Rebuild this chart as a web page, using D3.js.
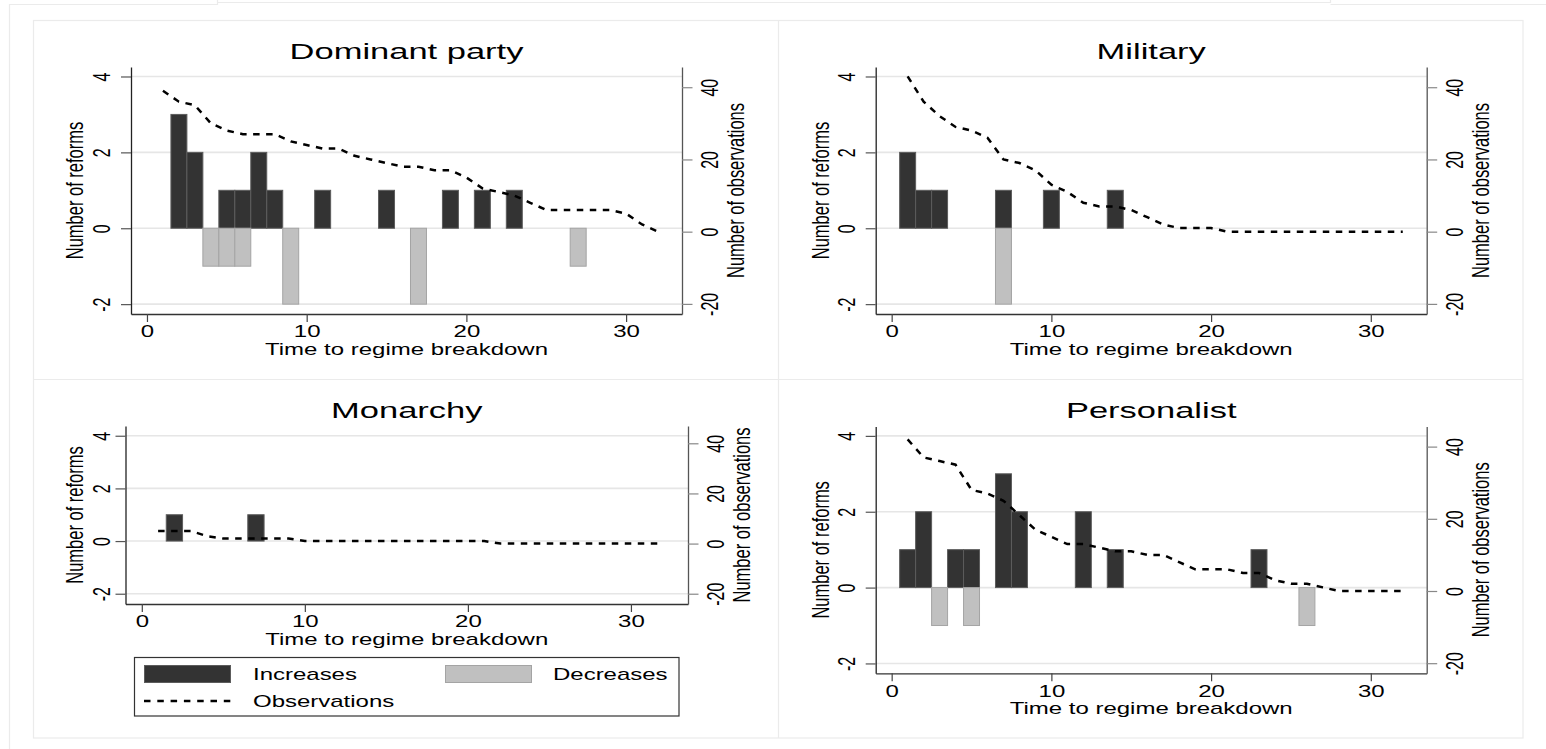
<!DOCTYPE html>
<html>
<head>
<meta charset="utf-8">
<script src="https://cdn.jsdelivr.net/npm/d3@7"></script>
<style>
  html, body { margin: 0; padding: 0; background: #fff; }
  svg { display: block; font-family: "Liberation Sans", Arial, Helvetica, sans-serif; }
</style>
</head>
<body>
<div id="chart"></div>
<script>
/* ============================================================
   Reforms before regime breakdown, by regime type
   ============================================================ */

// --- Data ---
const X_TICKS = [0, 10, 20, 30];
const Y_TICKS = [-2, 0, 2, 4];
const Y2_TICKS = [-20, 0, 20, 40];
const X_DOMAIN = [-1, 33.5];

const OBS_T = [1, 2, 3, 4, 5, 6, 7, 8, 9, 10, 11, 12, 13, 14, 15, 16,
               17, 18, 19, 20, 21, 22, 23, 24, 25, 26, 27, 28, 29, 30, 31, 32];

const DOM_INC_T = [2, 3, 5, 6, 7, 8, 11, 15, 19, 21, 23];
const DOM_INC_N = [3, 2, 1, 1, 2, 1, 1, 1, 1, 1, 1];
const DOM_DEC_T = [4, 5, 6, 9, 17, 27];
const DOM_DEC_N = [-1, -1, -1, -2, -2, -1];
const DOM_OBS = [39, 36, 35, 30, 28, 27, 27, 27, 25, 24, 23, 23, 21, 20, 19, 18,
                 18, 17, 17, 15, 12, 11, 10, 8, 6, 6, 6, 6, 6, 5, 2, 0];

const MIL_INC_T = [1, 2, 3, 7, 10, 14];
const MIL_INC_N = [2, 1, 1, 1, 1, 1];
const MIL_DEC_T = [7];
const MIL_DEC_N = [-2];
const MIL_OBS = [43, 36, 32, 29, 28, 26, 20, 19, 17, 13, 11, 8, 7, 7, 6, 4,
                 2, 1, 1, 1, 0, 0, 0, 0, 0, 0, 0, 0, 0, 0, 0, 0];

const MON_INC_T = [2, 7];
const MON_INC_N = [1, 1];
const MON_DEC_T = [];
const MON_DEC_N = [];
const MON_OBS = [5, 5, 5, 3, 2, 2, 2, 2, 2, 1, 1, 1, 1, 1, 1, 1,
                 1, 1, 1, 1, 1, 0, 0, 0, 0, 0, 0, 0, 0, 0, 0, 0];

const PER_INC_T = [1, 2, 4, 5, 7, 8, 12, 14, 23];
const PER_INC_N = [1, 2, 1, 1, 3, 2, 2, 1, 1];
const PER_DEC_T = [3, 5, 26];
const PER_DEC_N = [-1, -1, -1];
const PER_OBS = [42, 37, 36, 35, 28, 27, 25, 21, 17, 15, 13, 13, 12, 11, 11, 10,
                 10, 8, 6, 6, 6, 5, 5, 3, 2, 2, 1, 0, 0, 0, 0, 0];

const PANELS = [
    { title: 'Dominant party', incT: DOM_INC_T, incN: DOM_INC_N, decT: DOM_DEC_T, decN: DOM_DEC_N, obs: DOM_OBS },
    { title: 'Military',       incT: MIL_INC_T, incN: MIL_INC_N, decT: MIL_DEC_T, decN: MIL_DEC_N, obs: MIL_OBS },
    { title: 'Monarchy',       incT: MON_INC_T, incN: MON_INC_N, decT: MON_DEC_T, decN: MON_DEC_N, obs: MON_OBS },
    { title: 'Personalist',    incT: PER_INC_T, incN: PER_INC_N, decT: PER_DEC_T, decN: PER_DEC_N, obs: PER_OBS }
];

// --- Layout (plot boxes in px) ---
const LAYOUT = [
    { L: 131,   R: 682,    T: 67,    B: 314,   yDom: [-2.26, 4.25], y2Dom: [-22.8, 45.6], yLab: 29,   yTitle: 57 },
    { L: 875.7, R: 1426.7, T: 67,    B: 314,   yDom: [-2.26, 4.25], y2Dom: [-22.8, 45.6], yLab: 29,   yTitle: 56 },
    { L: 125.5, R: 688,    T: 426,   B: 604,   yDom: [-2.39, 4.37], y2Dom: [-24.1, 46.9], yLab: 23.5, yTitle: 51 },
    { L: 875.7, R: 1426.7, T: 426.4, B: 673.3, yDom: [-2.26, 4.25], y2Dom: [-22.8, 45.6], yLab: 29,   yTitle: 56 }
];

const SX = 1.5;           // the exported graph is stretched sideways
const DARK = '#333333', DARK_LINE = '#5c5c5c';
const LIGHT = '#c0c0c0', LIGHT_LINE = '#a4a4a4';
const GRID = '#e6e6e6', FRAME = '#ebebeb';

const svg = d3.select('#chart').append('svg')
    .attr('width', 1546)
    .attr('height', 749);

// text helper: horizontal text stretched in x, rotated text stretched across
function stext(sel, x, y, str, size, opts = {}) {
    const tf = opts.rotate
        ? `translate(${x},${y}) rotate(-90) scale(1,${SX})`
        : `translate(${x},${y}) scale(${SX},1)`;
    return sel.append('text')
        .attr('transform', tf)
        .attr('text-anchor', opts.anchor || 'middle')
        .attr('dominant-baseline', opts.rotate ? 'central' : null)
        .style('font-size', size + 'px')
        .attr('fill', '#000')
        .text(str);
}

// --- Background frames ---
const fr = svg.append('g').attr('fill', 'none').attr('stroke', FRAME).attr('stroke-width', 1.2);
fr.append('path').attr('d', 'M9.5,749 V4.5 H217.5 V0 M217.5,2.5 H1330.5 V0 M1330.5,4.5 H1546');
fr.append('rect').attr('x', 33.5).attr('y', 20.5).attr('width', 1489.5).attr('height', 717.5);
fr.append('line').attr('x1', 778.5).attr('x2', 778.5).attr('y1', 20.5).attr('y2', 738);
fr.append('line').attr('x1', 33.5).attr('x2', 1523).attr('y1', 379.5).attr('y2', 379.5);

// --- Panels ---
function drawPanel(p, lay) {
    const x = d3.scaleLinear().domain(X_DOMAIN).range([lay.L, lay.R]);
    const y = d3.scaleLinear().domain(lay.yDom).range([lay.B, lay.T]);
    const y2 = d3.scaleLinear().domain(lay.y2Dom).range([lay.B, lay.T]);
    const g = svg.append('g');

    // gridlines
    g.selectAll('line.grid').data(Y_TICKS).join('line')
        .attr('class', 'grid')
        .attr('x1', lay.L).attr('x2', lay.R)
        .attr('y1', d => y(d)).attr('y2', d => y(d))
        .attr('stroke', GRID).attr('stroke-width', 1.6);

    // increases
    const inc = p.incT.map((t, k) => ({ t, n: p.incN[k] }));
    g.selectAll('rect.inc').data(inc).join('rect')
        .attr('class', 'inc')
        .attr('x', d => x(d.t - 0.5))
        .attr('width', d => x(d.t + 0.5) - x(d.t - 0.5))
        .attr('y', d => y(d.n))
        .attr('height', d => y(0) - y(d.n))
        .attr('fill', DARK).attr('stroke', DARK_LINE).attr('stroke-width', 1);

    // decreases
    const dec = p.decT.map((t, k) => ({ t, n: p.decN[k] }));
    g.selectAll('rect.dec').data(dec).join('rect')
        .attr('class', 'dec')
        .attr('x', d => x(d.t - 0.5))
        .attr('width', d => x(d.t + 0.5) - x(d.t - 0.5))
        .attr('y', y(0))
        .attr('height', d => y(d.n) - y(0))
        .attr('fill', LIGHT).attr('stroke', LIGHT_LINE).attr('stroke-width', 1);

    // observations
    const line = d3.line().x((d, k) => x(OBS_T[k])).y(d => y2(d));
    g.append('path').datum(p.obs)
        .attr('d', line)
        .attr('fill', 'none')
        .attr('stroke', '#000')
        .attr('stroke-width', 2.5)
        .attr('stroke-dasharray', '6.5,6.5');

    // x axis
    const ax = g.append('g')
        .attr('transform', `translate(0,${lay.B})`)
        .call(d3.axisBottom(x).tickValues(X_TICKS).tickSize(8).tickSizeOuter(0).tickFormat(d => String(d)))
        .attr('font-family', null).attr('font-size', null);
    ax.select('.domain').attr('stroke', '#333').attr('stroke-width', 1.3);
    ax.selectAll('.tick line').attr('stroke', '#444').attr('stroke-width', 1.2);
    ax.selectAll('.tick text')
        .attr('y', null).attr('dy', null)
        .attr('transform', `translate(0,23.3) scale(${SX},1)`)
        .attr('fill', '#000').style('font-size', '16px');

    // left axis
    const ay = g.append('g')
        .attr('transform', `translate(${lay.L},0)`)
        .call(d3.axisLeft(y).tickValues(Y_TICKS).tickSize(10).tickSizeOuter(0).tickFormat(d => String(d)))
        .attr('font-family', null).attr('font-size', null);
    ay.select('.domain').attr('stroke', '#222').attr('stroke-width', 1.3);
    ay.selectAll('.tick line').attr('stroke', '#555').attr('stroke-width', 1.2);
    ay.selectAll('.tick text')
        .attr('x', null).attr('dy', null)
        .attr('transform', `translate(${-lay.yLab},0) rotate(-90) scale(1,${SX})`)
        .attr('text-anchor', 'middle').attr('dominant-baseline', 'central')
        .attr('fill', '#000').style('font-size', '16px');

    // right axis
    const ay2 = g.append('g')
        .attr('transform', `translate(${lay.R},0)`)
        .call(d3.axisRight(y2).tickValues(Y2_TICKS).tickSize(10.5).tickSizeOuter(0).tickFormat(d => String(d)))
        .attr('font-family', null).attr('font-size', null);
    ay2.select('.domain').attr('stroke', '#555').attr('stroke-width', 1.3);
    ay2.selectAll('.tick line').attr('stroke', '#888').attr('stroke-width', 1.2);
    ay2.selectAll('.tick text')
        .attr('x', null).attr('dy', null)
        .attr('transform', `translate(28,0) rotate(-90) scale(1,${SX})`)
        .attr('text-anchor', 'middle').attr('dominant-baseline', 'central')
        .attr('fill', '#000').style('font-size', '16px');

    // titles
    const cx = (lay.L + lay.R) / 2, cy = (lay.T + lay.B) / 2;
    stext(g, cx, lay.T - 8.5, p.title, 23);
    stext(g, cx, lay.B + 41, 'Time to regime breakdown', 16);
    stext(g, lay.L - lay.yTitle, cy, 'Number of reforms', 16.5, { rotate: true });
    stext(g, lay.R + 53, cy, 'Number of observations', 16.5, { rotate: true });
}

PANELS.forEach((p, i) => drawPanel(p, LAYOUT[i]));

// --- Legend ---
const lg = svg.append('g');
lg.append('rect')
    .attr('x', 134.5).attr('y', 657.5).attr('width', 544.5).attr('height', 58.5)
    .attr('fill', '#fff').attr('stroke', '#333').attr('stroke-width', 1.2);
lg.append('rect').attr('x', 144.5).attr('y', 665.5).attr('width', 86).attr('height', 17)
    .attr('fill', DARK).attr('stroke', DARK_LINE);
stext(lg, 253, 680, 'Increases', 16, { anchor: 'start' });
lg.append('rect').attr('x', 445.5).attr('y', 665.5).attr('width', 86).attr('height', 17)
    .attr('fill', LIGHT).attr('stroke', LIGHT_LINE);
stext(lg, 553, 680, 'Decreases', 16, { anchor: 'start' });
lg.append('line').attr('x1', 144).attr('x2', 231).attr('y1', 701).attr('y2', 701)
    .attr('stroke', '#000').attr('stroke-width', 2.5).attr('stroke-dasharray', '6.5,6.8');
stext(lg, 253, 707, 'Observations', 16, { anchor: 'start' });
</script>
</body>
</html>
